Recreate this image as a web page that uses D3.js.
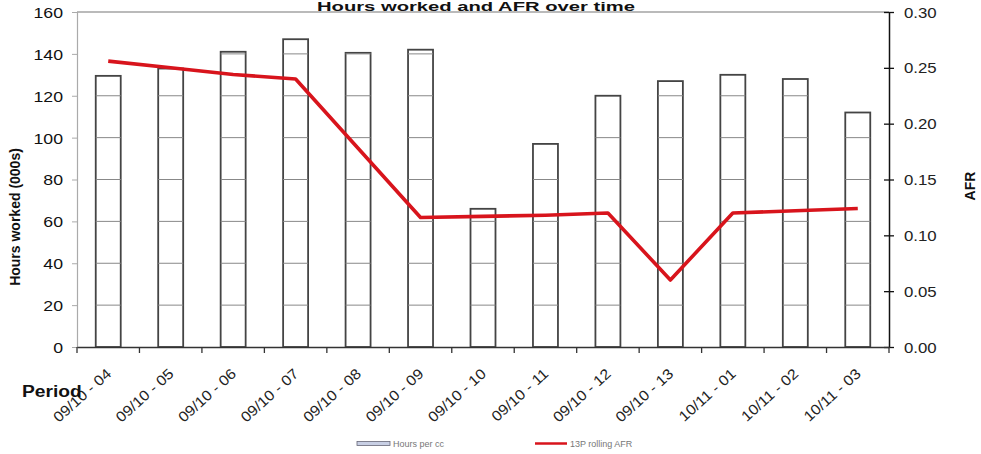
<!DOCTYPE html>
<html><head><meta charset="utf-8">
<script src="https://cdn.jsdelivr.net/npm/d3@7"></script>
<style>
body{margin:0;background:#fff;}
svg text{font-family:"Liberation Sans",Arial,sans-serif;}
</style></head>
<body><svg id="c" width="981" height="454"></svg>
<script>
const categories = ["09/10 - 04","09/10 - 05","09/10 - 06","09/10 - 07","09/10 - 08","09/10 - 09","09/10 - 10","09/10 - 11","09/10 - 12","09/10 - 13","10/11 - 01","10/11 - 02","10/11 - 03"];
const hoursWorked = [129.5,133,141,147,140.5,142,66,97,120,127,130,128,112];
const rollingAFR = [0.256,0.250,0.244,0.240,0.178,0.116,0.117,0.118,0.120,0.060,0.120,0.122,0.124];
const leftTicks = [0,20,40,60,80,100,120,140,160];
const rightTicks = [0,0.05,0.10,0.15,0.20,0.25,0.30];
const titleText = "Hours worked and AFR over time";
const leftTitle = "Hours worked (000s)";
const rightTitle = "AFR";
const xTitle = "Period";
const legendLabels = ["Hours per cc","13P rolling AFR"];

const svg = d3.select("#c");
const m = {l:77, r:889, t:12, b:347};
const x = d3.scaleBand().domain(categories).range([m.l, m.r]).paddingInner(0.6).paddingOuter(0.3);
const xb = d3.scaleBand().domain(categories).range([m.l, m.r]);
const yL = d3.scaleLinear().domain([0,160]).range([m.b, m.t]);
const yR = d3.scaleLinear().domain([0,0.30]).range([m.b, m.t]);

function stretch(sel, k){
  sel.each(function(){
    const w = this.getComputedTextLength();
    d3.select(this).attr("textLength", w*k).attr("lengthAdjust","spacingAndGlyphs");
  });
}

// top frame line
svg.append("line").attr("x1",m.l).attr("x2",m.r).attr("y1",m.t).attr("y2",m.t)
  .attr("stroke","#777").attr("stroke-width",1.2);

// bars
const bars = svg.append("g");
categories.forEach((c,i)=>{
  const g = bars.append("g");
  g.append("rect").attr("x",x(c)).attr("width",x.bandwidth())
    .attr("y",yL(hoursWorked[i])).attr("height",yL(0)-yL(hoursWorked[i]))
    .attr("fill","#fff").attr("stroke","#444").attr("stroke-width",1.8);
  leftTicks.filter(t=>t>0 && t<hoursWorked[i]).forEach(t=>{
    g.append("line").attr("x1",x(c)).attr("x2",x(c)+x.bandwidth())
      .attr("y1",yL(t)).attr("y2",yL(t)).attr("stroke","#888").attr("stroke-width",1);
  });
});

// left axis
const la = svg.append("g").attr("transform",`translate(${m.l},0)`)
  .call(d3.axisLeft(yL).tickValues(leftTicks).tickSize(5).tickPadding(9).tickFormat(d3.format("d")));
la.select(".domain").attr("stroke","#aaa").attr("stroke-width",1.2);
la.selectAll(".tick line").attr("stroke","#aaa");
la.selectAll("text").attr("font-size",15).attr("fill","#111").attr("dy","0.36em");
stretch(la.selectAll("text"),1.18);

// right axis
const ra = svg.append("g").attr("transform",`translate(${m.r},0)`)
  .call(d3.axisRight(yR).tickValues(rightTicks).tickSizeOuter(0).tickSizeInner(5).tickPadding(10).tickFormat(d3.format(".2f")));
ra.select(".domain").attr("stroke","#111").attr("stroke-width",1.5);
ra.selectAll(".tick line").attr("x1",-5).attr("stroke","#111").attr("stroke-width",1.3);
ra.selectAll("text").attr("font-size",14).attr("fill","#222").attr("dy","0.36em");
stretch(ra.selectAll("text"),1.2);

// bottom axis
const ba = svg.append("g").attr("transform",`translate(0,${m.b})`)
  .call(d3.axisBottom(xb).tickSize(0).tickFormat(""));
ba.select(".domain").attr("stroke","#333").attr("stroke-width",1.5);
const bounds = categories.map(c=>xb(c)).concat([m.r]);
ba.selectAll(".bt").data(bounds).enter().append("line")
  .attr("x1",d=>d).attr("x2",d=>d).attr("y1",0).attr("y2",6).attr("stroke","#333").attr("stroke-width",1.3);

// x labels
const xl = svg.append("g").selectAll("text").data(categories).enter().append("text")
  .attr("transform",d=>`translate(${xb(d)+xb.bandwidth()/2+4},${m.b+28}) rotate(-42)`)
  .attr("text-anchor","end").attr("font-size",14.5).attr("fill","#222").text(d=>d);
stretch(xl,1.1);

// line
const line = d3.line().x((d,i)=>xb(categories[i])+xb.bandwidth()/2).y(d=>yR(d));
svg.append("path").datum(rollingAFR).attr("d",line).attr("fill","none")
  .attr("stroke","#d8141c").attr("stroke-width",3.6).attr("stroke-linejoin","round");

// titles
svg.append("text").attr("x",476).attr("y",11).attr("text-anchor","middle")
  .attr("font-size",12).attr("font-weight","bold").attr("fill","#111")
  .attr("textLength",318).attr("lengthAdjust","spacingAndGlyphs").text(titleText);
svg.append("text").attr("transform","translate(20,217) rotate(-90)").attr("text-anchor","middle")
  .attr("font-size",14).attr("font-weight","bold").attr("fill","#111").text(leftTitle);
svg.append("text").attr("transform","translate(975,186) rotate(-90)").attr("text-anchor","middle")
  .attr("font-size",14).attr("font-weight","bold").attr("fill","#111").text(rightTitle);
const pt = svg.append("text").attr("x",22).attr("y",397).attr("font-size",16)
  .attr("font-weight","bold").attr("fill","#111").text(xTitle);
stretch(pt,1.2);

// legend
svg.append("rect").attr("x",357).attr("y",441.5).attr("width",33).attr("height",4)
  .attr("fill","#c8cfe4").attr("stroke","#667").attr("stroke-width",0.8);
svg.append("text").attr("x",393).attr("y",447).attr("font-size",9).attr("fill","#777").text(legendLabels[0]);
svg.append("line").attr("x1",535).attr("x2",567).attr("y1",443.5).attr("y2",443.5)
  .attr("stroke","#d8141c").attr("stroke-width",2.5);
svg.append("text").attr("x",570).attr("y",447).attr("font-size",9).attr("fill","#777").text(legendLabels[1]);
</script></body></html>
